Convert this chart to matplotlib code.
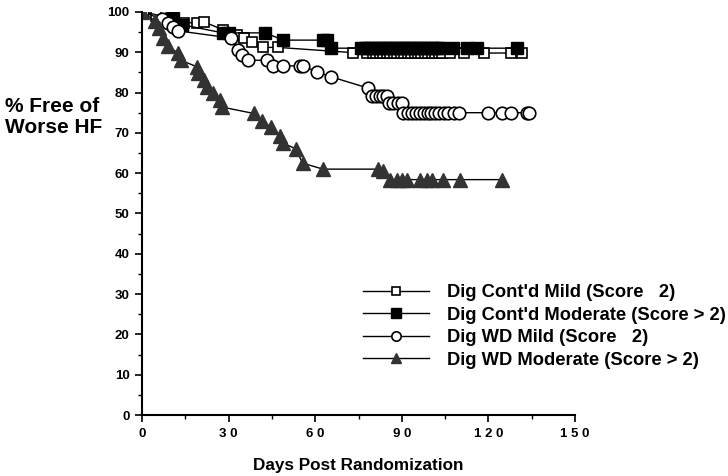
import matplotlib
matplotlib.use("Agg")
from matplotlib import pyplot as plt
from matplotlib.ticker import MultipleLocator

plt.rcParams["font.family"] = ["Liberation Sans", "DejaVu Sans"]
plt.rcParams["font.weight"] = "bold"

# Dig continued, mild (score <= 2)
cont_mild_days = [0, 5, 10, 14.5, 19, 21.5, 28, 33, 35.5, 38, 42, 47,
                  73, 78, 80, 81.2, 82.4, 83.6, 84.8, 86, 87.2, 88.4, 89.6,
                  90.8, 92, 93.2, 94.4, 95.6, 96.8, 98, 99.2, 100.4, 101.6,
                  102.8, 104, 106.7, 111.5, 118.5, 127.8, 131.6]
cont_mild_pct = [100, 99, 98.5, 97.3, 97.3, 97.5, 95.6, 94.3, 93.5, 92.6, 91.2, 91.2,
                 89.9, 89.8, 89.8, 89.8, 89.8, 89.8, 89.8, 89.8, 89.8, 89.8, 89.8,
                 89.8, 89.8, 89.8, 89.8, 89.8, 89.8, 89.8, 89.8, 89.8, 89.8,
                 89.8, 89.8, 89.8, 89.8, 89.8, 89.8, 89.8]

# Dig continued, moderate (score > 2)
cont_mod_days = [0, 10.7, 14, 28, 30, 42.6, 49, 62.7, 64, 65.6, 76, 77.2, 78.4,
                 79.6, 80.8, 82, 83.2, 84.4, 85.6, 86.8, 88, 89.2, 90.4, 91.6,
                 92.8, 94, 95.2, 96.4, 97.6, 98.8, 100, 101.2, 102.4, 103.6,
                 107.7, 112.6, 116, 129.9]
cont_mod_pct = [100, 98.5, 96.8, 94.8, 94.8, 94.8, 93, 93, 93, 91, 91, 91, 91,
                91, 91, 91, 91, 91, 91, 91, 91, 91, 91, 91,
                91, 91, 91, 91, 91, 91, 91, 91, 91, 91,
                91, 91, 91, 91]

# Dig withdrawn, mild (score <= 2)
wd_mild_days = [0, 7, 9, 10.7, 12.5, 31, 33.2, 34.6, 36.7, 43.3, 45.4, 48.8,
                54.7, 55.8, 60.6, 65.5, 78.3, 79.7, 81, 82.3, 83.6, 85,
                85.6, 87, 88.5, 90, 90.4, 92, 93.5, 95, 96.3, 97.5, 99,
                100.2, 101.5, 103, 104.5, 106, 108, 109.8, 119.8, 124.7,
                127.8, 133.3, 134]
wd_mild_pct = [100, 98.2, 97.3, 96.3, 95.3, 93.5, 90.6, 89.3, 88, 88, 86.6, 86.6,
               86.6, 86.6, 85.1, 83.9, 81.1, 79.2, 79.2, 79.2, 79.2, 79.2,
               77.4, 77.4, 77.4, 77.4, 75, 75, 75, 75, 75, 75, 75,
               75, 75, 75, 75, 75, 75, 75, 75, 75,
               75, 75, 75]

# Dig withdrawn, moderate (score > 2)
wd_mod_days = [0, 4.5, 5.9, 7.3, 9, 12.5, 13.5, 19, 19.4, 21.5, 22.5, 24.6,
               27, 27.7, 38.8, 41.6, 44.7, 47.8, 48.8, 53.3, 55.6, 62.7,
               81.7, 83.5, 85.9, 88.3, 90, 91.8, 96.3, 98.7, 100.4, 104.3,
               110, 124.7]
wd_mod_pct = [100, 97.8, 96, 93.5, 91.5, 89.8, 88, 86.4, 84.9, 83.1, 81.4, 79.9,
              78.2, 76.4, 74.8, 73, 71.4, 69.3, 67.5, 66, 62.5, 61,
              61, 60.5, 58.4, 58.4, 58.4, 58.4, 58.4, 58.4, 58.4, 58.4,
              58.4, 58.4]

series_labels = ["Dig Cont'd Mild (Score   2)",
                 "Dig Cont'd Moderate (Score > 2)",
                 "Dig WD Mild (Score   2)",
                 "Dig WD Moderate (Score > 2)"]

x_ticks = [0, 30, 60, 90, 120, 150]
x_tick_labels = ["0", "3 0", "6 0", "9 0", "1 2 0", "1 5 0"]
y_ticks = [0, 10, 20, 30, 40, 50, 60, 70, 80, 90, 100]

fig = plt.figure(figsize=(7.28, 4.76), dpi=100)
ax = fig.add_axes([0.195, 0.128, 0.595, 0.847])

ax.plot(cont_mild_days, cont_mild_pct, color="black", lw=1,
        marker="s", ms=7, mfc="white", mec="black", mew=1.2,
        label=series_labels[0])
ax.plot(cont_mod_days, cont_mod_pct, color="black", lw=1,
        marker="s", ms=9, mfc="black", mec="black",
        label=series_labels[1])
ax.plot(wd_mild_days, wd_mild_pct, color="black", lw=1,
        marker="o", ms=9, mfc="white", mec="black", mew=1.2,
        label=series_labels[2])
ax.plot(wd_mod_days, wd_mod_pct, color="black", lw=1,
        marker="^", ms=10, mfc="#333333", mec="#333333",
        label=series_labels[3])

ax.set_xlim(0, 150)
ax.set_ylim(0, 100)
ax.set_xticks(x_ticks)
ax.set_xticklabels(x_tick_labels)
ax.set_yticks(y_ticks)
ax.xaxis.set_minor_locator(MultipleLocator(15))
ax.yaxis.set_minor_locator(MultipleLocator(5))
ax.tick_params(which="major", direction="out", length=5, width=1.2,
               labelsize=9.5, pad=4)
ax.tick_params(which="minor", direction="out", length=3, width=1)
for lab in ax.get_xticklabels() + ax.get_yticklabels():
    lab.set_fontweight("bold")

ax.spines["top"].set_visible(False)
ax.spines["right"].set_visible(False)
ax.spines["left"].set_linewidth(1.5)
ax.spines["bottom"].set_linewidth(1.5)

ax.set_xlabel("Days Post Randomization", fontsize=12.3, fontweight="bold",
              labelpad=13)
fig.text(0.007, 0.754, "% Free of\nWorse HF", fontsize=15,
         fontweight="bold", ha="left", va="center", linespacing=1.15)

leg = ax.legend(loc="upper left", bbox_to_anchor=(0.486, 0.422),
                bbox_transform=fig.transFigure, frameon=False,
                handlelength=3.6, handletextpad=1.0, labelspacing=0.3,
                markerscale=0.75, borderpad=0,
                prop={"size": 13.2, "weight": "bold"})

plt.savefig("out.png", dpi=100)
